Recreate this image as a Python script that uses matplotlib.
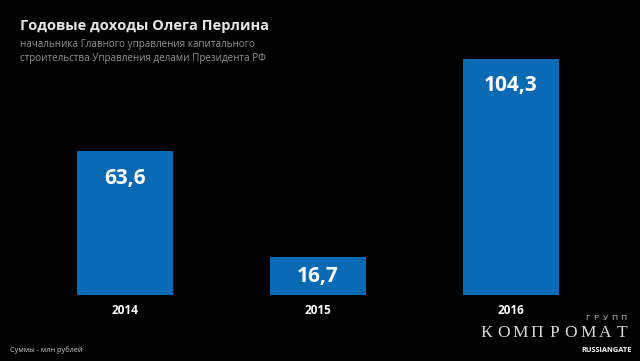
import matplotlib.pyplot as plt

years = ["2014", "2015", "2016"]
incomes = [63.6, 16.7, 104.3]
value_labels = ["63,6", "16,7", "104,3"]

title = "Годовые доходы Олега Перлина"
subtitle = ["начальника Главного управления капитального",
            "строительства Управления делами Президента РФ"]
note = "Суммы - млн рублей"
logo_top = "ГРУПП"
logo_main = "КОМПРОМАТ"
logo_bottom = "RUSSIANGATE"

W, H = 640, 361
fig = plt.figure(figsize=(W / 100, H / 100), dpi=100, facecolor="black")
plt.rcParams["font.family"] = ["Open Sans", "DejaVu Sans"]

# axes: bottom of bars at 295 px, tallest bar top at 59 px
ax = fig.add_axes([0, (H - 295) / H, 1, (295 - 59) / H])
ax.set_facecolor("black")
pos = [0, 1, 2]
ax.bar(pos, incomes, width=0.5, color="#0a6ab4")
ax.set_xlim(-125 / 193, (W - 125) / 193)
ax.set_ylim(0, max(incomes))
ax.axis("off")

px_per_unit = (295 - 59) / max(incomes)
for x, v, lab, yr in zip(pos, incomes, value_labels, years):
    # label near top of bar, or centred for short bars
    off = min(27, v * px_per_unit / 2)
    ax.annotate(lab, (x, v), xytext=(0, -off * 0.72), textcoords="offset points",
                ha="center", va="center", color="white", fontsize=15,
                fontweight="bold", annotation_clip=False)
    ax.annotate(yr, (x, 0), xytext=(0, -15 * 0.72),
                textcoords="offset points", ha="center", va="center",
                color="white", fontsize=8.5, fontweight="bold",
                annotation_clip=False)

fig.text(20 / W, 1 - 26 / H, title, color="#e6e6e6", fontsize=10.5,
         fontweight="bold", ha="left", va="center")
for i, line in enumerate(subtitle):
    fig.text(20 / W, 1 - (44 + 14 * i) / H, line, color="#939393",
             fontsize=7.1, ha="left", va="center")
fig.text(10 / W, 1 - 350 / H, note, color="#cccccc", fontsize=5.3,
         ha="left", va="center")

# logo, letter-spaced
for i, ch in enumerate(logo_top):
    fig.text((587 + 9 * i) / W, 1 - 319 / H, ch, color="#d0d0d0", fontsize=6,
             ha="center", va="center")
for i, ch in enumerate(logo_main):
    fig.text((486.5 + 16.9 * i) / W, 1 - 333 / H, ch, color="#d8d8d8",
             fontsize=12.5, family="Liberation Serif", ha="center", va="center")
fig.text(632 / W, 1 - 350.5 / H, logo_bottom, color="white", fontsize=5.3,
         fontweight="bold", ha="right", va="center")

fig.savefig("out.png", dpi=100, facecolor="black")
